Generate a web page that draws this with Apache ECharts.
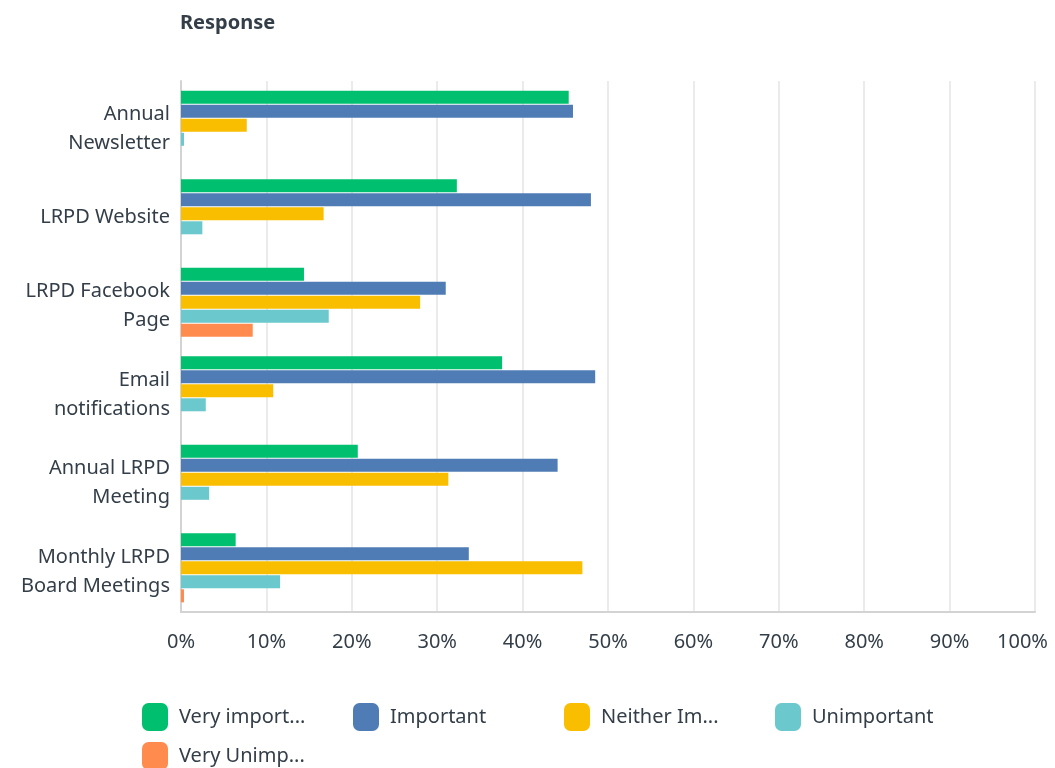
<!DOCTYPE html>
<html>
<head>
<meta charset="utf-8">
<title>Response</title>
<script src="https://cdn.jsdelivr.net/npm/echarts@6/dist/echarts.min.js"></script>
<style>
  html, body { margin: 0; padding: 0; background: #fff; }
  #chart { width: 1055px; height: 768px; }
</style>
</head>
<body>
<div id="chart"></div>
<script>
// categories, top to bottom
const categories = [
  'Annual\nNewsletter',
  'LRPD Website',
  'LRPD Facebook\nPage',
  'Email\nnotifications',
  'Annual LRPD\nMeeting',
  'Monthly LRPD\nBoard Meetings'
];

// series names and the shortened labels shown in the legend
const seriesNames = ['Very important', 'Important', 'Neither Important nor Unimportant', 'Unimportant', 'Very Unimportant'];
const legendLabels = ['Very import...', 'Important', 'Neither Im...', 'Unimportant', 'Very Unimp...'];
const colors = ['#00bf6f', '#507cb6', '#f9be00', '#6bc8cd', '#ff8b4f'];

// percentages per category (same order as categories)
const veryImportant = [45.4, 32.3, 14.4, 37.6, 20.7, 6.4];
const important = [45.9, 48.0, 31.0, 48.5, 44.1, 33.7];
const neither = [7.7, 16.7, 28.0, 10.8, 31.3, 47.0];
const unimportant = [0.35, 2.5, 17.3, 2.9, 3.3, 11.6];
const veryUnimportant = [0, 0, 8.4, 0, 0, 0.35];

const xTicks = [0, 10, 20, 30, 40, 50, 60, 70, 80, 90, 100];

const seriesData = [veryImportant, important, neither, unimportant, veryUnimportant];
const textColor = '#333e48';
const fontFamily = 'Noto Sans';

// legend grid: 4 per row, 211px apart
const legendCols = 4;
function legendFor(name, i) {
  return {
    left: 137 + (i % legendCols) * 211,
    top: 698 + Math.floor(i / legendCols) * 39,
    itemWidth: 26,
    itemHeight: 28,
    icon: 'roundRect',
    data: [name],
    formatter: function () { return legendLabels[i]; },
    textStyle: {
      color: textColor,
      fontSize: 20,
      padding: [0, 0, 0, 6],
      fontFamily: fontFamily
    }
  };
}

const chart = echarts.init(document.getElementById('chart'));

chart.setOption({
  animation: false,
  textStyle: { fontFamily: fontFamily },
  title: {
    text: 'Response',
    left: 175,
    top: 8,
    textStyle: { fontSize: 20, fontWeight: 'bold', color: textColor, fontFamily: fontFamily }
  },
  grid: [
    { left: 181, right: 20, top: 81, bottom: 156, outerBoundsMode: 'none' },
    // label-only grid, nudged down a few px to match the reference text position
    { left: 181, right: 20, top: 85, bottom: 152, outerBoundsMode: 'none' }
  ],
  xAxis: [
    {
      type: 'value',
      gridIndex: 0,
      min: xTicks[0],
      max: xTicks[xTicks.length - 1],
      interval: 10,
      axisLine: { show: true, lineStyle: { color: '#d3d3d3', width: 2 } },
      axisTick: { show: false },
      splitLine: { lineStyle: { color: '#ebebeb', width: 2 } },
      axisLabel: {
        // the last label is pulled left so it stays inside the page
        formatter: function (v) {
          return v === xTicks[xTicks.length - 1] ? '{last|' + v + '%}' : v + '%';
        },
        rich: {
          last: { width: 76, align: 'left', fontSize: 20, color: textColor, fontFamily: fontFamily }
        },
        color: textColor,
        fontSize: 20,
        margin: 20,
        fontFamily: fontFamily
      }
    },
    {
      type: 'value',
      gridIndex: 1,
      min: 0,
      max: 100,
      show: false
    }
  ],
  yAxis: [
    {
      type: 'category',
      gridIndex: 0,
      data: categories,
      inverse: true,
      axisLine: { show: true, lineStyle: { color: '#d3d3d3', width: 2 } },
      axisTick: { show: false },
      axisLabel: { show: false }
    },
    {
      type: 'category',
      gridIndex: 1,
      data: categories,
      inverse: true,
      axisLine: { show: false },
      axisTick: { show: false },
      splitLine: { show: false },
      axisLabel: {
        color: textColor,
        fontSize: 20,
        lineHeight: 29,
        margin: 11,
        align: 'right',
        fontFamily: fontFamily
      }
    }
  ],
  legend: seriesNames.map(legendFor),
  series: seriesNames.map(function (name, i) {
    return {
      name: name,
      type: 'bar',
      xAxisIndex: 0,
      yAxisIndex: 0,
      data: seriesData[i],
      barWidth: 13,
      barGap: '8%',
      itemStyle: { color: colors[i] }
    };
  })
});
</script>
</body>
</html>
